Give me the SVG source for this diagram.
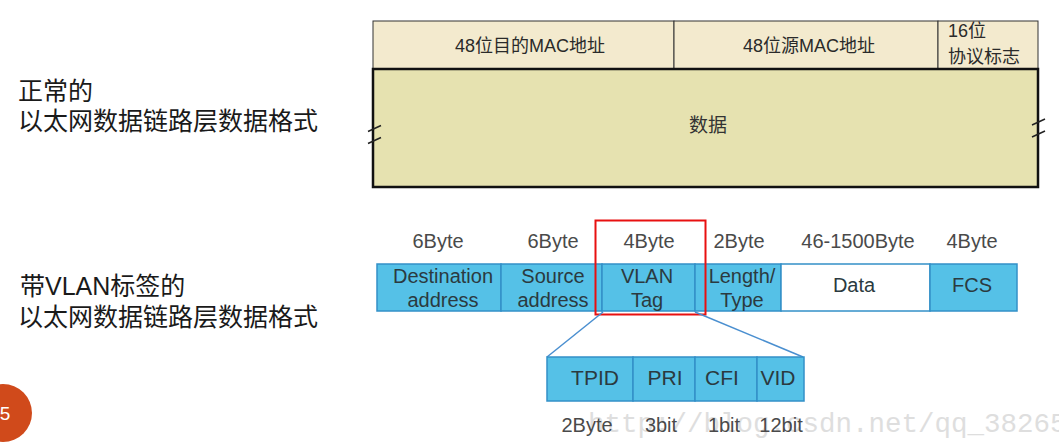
<svg xmlns="http://www.w3.org/2000/svg" width="1059" height="446" viewBox="0 0 1059 446">
<defs>
<style>
.cjk{font-family:"Liberation Sans","Noto Sans CJK SC",sans-serif;}
.side{font-size:25px;fill:#1a1a1a;}
.hdr{fill:#f3eace;stroke:#333;stroke-width:1;}
.hdrt{font-size:18px;fill:#2a2a2a;}
.cell{fill:#55c1e7;stroke:#3390c8;stroke-width:1.5;}
.cellw{fill:#ffffff;stroke:#3390c8;stroke-width:1.5;}
.ct{font-family:"Liberation Sans",Arial,sans-serif;font-size:20px;fill:#2b3a40;text-anchor:middle;}
.lbl{font-family:"Liberation Sans",Arial,sans-serif;font-size:20px;fill:#4a4a4a;text-anchor:middle;}
.bt{font-family:"Liberation Sans",Arial,sans-serif;font-size:21px;fill:#2b3a40;text-anchor:middle;}
.brk{stroke:#222;stroke-width:1.5;fill:none;}
.conn{stroke:#4a8fd0;stroke-width:1.5;fill:none;}
</style>
</defs>
<rect width="1059" height="446" fill="#ffffff"/>

<g id="labels-left">
<text class="cjk side" x="18" y="100">正常的</text>
<text class="cjk side" x="18" y="130">以太网数据链路层数据格式</text>
<text class="cjk side" x="20" y="295">带VLAN标签的</text>
<text class="cjk side" x="18" y="326">以太网数据链路层数据格式</text>
</g>

<g id="normal-frame">
<g id="dst-mac">
<rect class="hdr" x="373" y="21" width="301" height="48"/>
<text class="cjk hdrt" x="530" y="51.5" text-anchor="middle">48位目的MAC地址</text>
</g>
<g id="src-mac">
<rect class="hdr" x="674" y="21" width="264" height="48"/>
<text class="cjk hdrt" x="809" y="51.5" text-anchor="middle">48位源MAC地址</text>
</g>
<g id="proto">
<rect class="hdr" x="938" y="21" width="100" height="48"/>
<text class="cjk hdrt" x="948" y="37">16位</text>
<text class="cjk hdrt" x="948" y="63">协议标志</text>
</g>
<g id="data-box">
<rect x="373" y="69" width="665" height="118" fill="#e6e2b0" stroke="#111" stroke-width="2.5"/>
<text class="cjk" x="708" y="132" font-size="19" fill="#333" text-anchor="middle">数据</text>
<path class="brk" d="M368 131.5 L381 125.5 M368 143.5 L381 137.5"/>
<path class="brk" d="M1032 125 L1045 119 M1032 137 L1045 131"/>
</g>
</g>

<g id="vlan-frame">
<text class="lbl" x="438" y="248">6Byte</text>
<text class="lbl" x="553" y="248">6Byte</text>
<text class="lbl" x="649" y="248">4Byte</text>
<text class="lbl" x="739" y="248">2Byte</text>
<text class="lbl" x="858" y="248">46-1500Byte</text>
<text class="lbl" x="972" y="248">4Byte</text>
<g id="destination">
<rect class="cell" x="377" y="264" width="124" height="47"/>
<text class="ct" x="443" y="283">Destination</text>
<text class="ct" x="443" y="307">address</text>
</g>
<g id="source">
<rect class="cell" x="501" y="264" width="101" height="47"/>
<text class="ct" x="553" y="283">Source</text>
<text class="ct" x="553" y="307">address</text>
</g>
<g id="vlan-tag">
<rect class="cell" x="602" y="264" width="93" height="47"/>
<text class="ct" x="647" y="283">VLAN</text>
<text class="ct" x="647" y="307">Tag</text>
</g>
<g id="length-type">
<rect class="cell" x="695" y="264" width="86" height="47"/>
<text class="ct" x="742" y="283">Length/</text>
<text class="ct" x="742" y="307">Type</text>
</g>
<g id="data">
<rect class="cellw" x="781" y="264" width="149" height="47"/>
<text class="ct" x="854" y="292">Data</text>
</g>
<g id="fcs">
<rect class="cell" x="930" y="264" width="87" height="47"/>
<text class="ct" x="972" y="292">FCS</text>
</g>
<g id="highlight">
<rect x="595.5" y="220.5" width="110" height="94" fill="none" stroke="#e81010" stroke-width="2"/>
</g>
</g>

<g id="connectors">
<line class="conn" x1="603" y1="312" x2="547" y2="357"/>
<line class="conn" x1="695" y1="312" x2="803" y2="357"/>
</g>

<g id="watermark">
<text x="588" y="432" font-family="Liberation Mono,monospace" font-size="27.5" fill="#dedede">http://blog.csdn.net/qq_38265</text>
</g>

<g id="tag-fields">
<g id="tpid">
<rect class="cell" x="547" y="357" width="86" height="44"/>
<text class="bt" x="595" y="385">TPID</text>
</g>
<g id="pri">
<rect class="cell" x="633" y="357" width="62" height="44"/>
<text class="bt" x="665" y="385">PRI</text>
</g>
<g id="cfi">
<rect class="cell" x="695" y="357" width="62" height="44"/>
<text class="bt" x="722" y="385">CFI</text>
</g>
<g id="vid">
<rect class="cell" x="757" y="357" width="47" height="44"/>
<text class="bt" x="778" y="385">VID</text>
</g>
<text class="lbl" x="587" y="432" fill="#3a3a3a">2Byte</text>
<text class="lbl" x="661" y="432" fill="#3a3a3a">3bit</text>
<text class="lbl" x="724" y="432" fill="#3a3a3a">1bit</text>
<text class="lbl" x="781" y="432" fill="#3a3a3a">12bit</text>
</g>

<g id="page-badge">
<circle cx="3" cy="413" r="29" fill="#d04a1b"/>
<text x="5" y="420" font-family="Liberation Sans,Arial,sans-serif" font-size="19" fill="#ffffff" text-anchor="middle">5</text>
</g>
</svg>
